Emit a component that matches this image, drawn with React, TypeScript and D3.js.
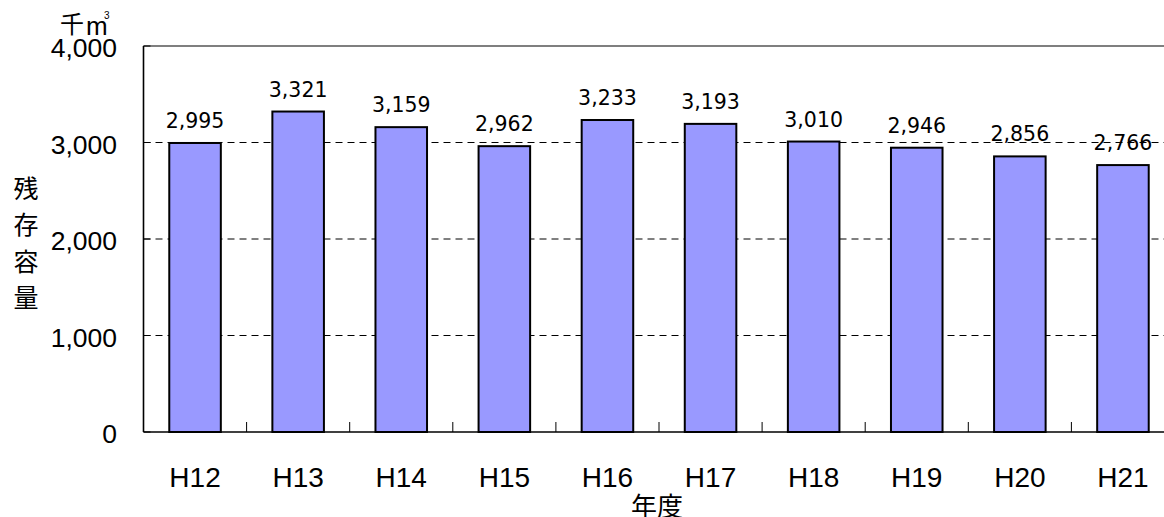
import React from "react";
import * as d3 from "d3";

const years = ["H12", "H13", "H14", "H15", "H16", "H17", "H18", "H19", "H20", "H21"];
const remaining = [2995, 3321, 3159, 2962, 3233, 3193, 3010, 2946, 2856, 2766];
const yTicks = [0, 1000, 2000, 3000, 4000];
const yTitleChars = ["残", "存", "容", "量"];

const W = 1164;
const H = 517;
const margin = { left: 143.5, top: 46, bottom: 85 };
const plotRight = 1174.5; // plot runs past the picture's right edge

const axisFont = "'Liberation Sans', Arial, sans-serif";
const cjkFont = "'Noto Sans CJK JP', sans-serif";

export default function App() {
  const x = d3
    .scaleBand<string>()
    .domain(years)
    .range([margin.left, plotRight])
    .paddingInner(0.5)
    .paddingOuter(0.25);

  const y = d3
    .scaleLinear()
    .domain([0, 4000])
    .range([H - margin.bottom, margin.top]);

  const step = x.step();
  const fmt = d3.format(",");
  const y0 = y(0);

  // category boundaries for the small upward ticks on the baseline
  const bounds = d3.range(years.length + 1).map((i) => margin.left + i * step);

  return (
    <div style={{ position: "fixed", left: 0, top: 0 }}>
      <svg width={W} height={H} style={{ display: "block", background: "#fff" }}>
        {/* gridlines */}
        {yTicks
          .filter((t) => t > 0 && t < 4000)
          .map((t) => (
            <line
              key={t}
              x1={margin.left}
              x2={plotRight}
              y1={y(t)}
              y2={y(t)}
              stroke="#000"
              strokeWidth={1}
              strokeDasharray="7,5"
            />
          ))}
        {/* top border */}
        <line x1={margin.left} x2={plotRight} y1={y(4000)} y2={y(4000)} stroke="#000" strokeWidth={1.2} />

        {/* bars */}
        {years.map((yr, i) => (
          <rect
            key={yr}
            x={x(yr)}
            y={y(remaining[i])}
            width={x.bandwidth()}
            height={y0 - y(remaining[i])}
            fill="#9999FF"
            stroke="#000"
            strokeWidth={2}
          />
        ))}

        {/* value labels */}
        {years.map((yr, i) => (
          <text
            key={yr}
            x={(x(yr) as number) + x.bandwidth() / 2}
            y={y(remaining[i]) - 15}
            textAnchor="middle"
            fontFamily="'DejaVu Sans', sans-serif"
            fontSize={20.5}
            fill="#000"
          >
            {fmt(remaining[i])}
          </text>
        ))}

        {/* axes */}
        <line x1={margin.left} x2={margin.left} y1={y(4000)} y2={y0} stroke="#000" strokeWidth={1.6} />
        <line x1={margin.left} x2={plotRight} y1={y0} y2={y0} stroke="#000" strokeWidth={1.6} />
        {bounds.map((bx, i) => (
          <line key={i} x1={bx} x2={bx} y1={y0} y2={y0 - 10} stroke="#000" strokeWidth={1} />
        ))}
        {yTicks.map((t) => (
          <line key={t} x1={margin.left} x2={margin.left + 7} y1={y(t)} y2={y(t)} stroke="#000" strokeWidth={1} />
        ))}

        {/* y tick labels */}
        {yTicks.map((t) => (
          <text
            key={t}
            x={117}
            y={y(t) + 2}
            textAnchor="end"
            dominantBaseline="central"
            fontFamily={axisFont}
            fontSize={26.5}
            fill="#000"
          >
            {fmt(t)}
          </text>
        ))}

        {/* x tick labels */}
        {years.map((yr) => (
          <text
            key={yr}
            x={(x(yr) as number) + x.bandwidth() / 2}
            y={487}
            textAnchor="middle"
            fontFamily={axisFont}
            fontSize={28}
            fill="#000"
          >
            {yr}
          </text>
        ))}

        {/* unit */}
        <text x={60} y={33} fontFamily={cjkFont} fontSize={24} fill="#000">
          千
        </text>
        <text x={86} y={35} fontFamily={axisFont} fontSize={26} fill="#000">
          m
        </text>
        <text x={104} y={19} fontFamily={axisFont} fontSize={10} fill="#000">
          3
        </text>

        {/* y title, stacked vertically */}
        {yTitleChars.map((c, i) => (
          <text
            key={c}
            x={26}
            y={187 + i * 36.3}
            textAnchor="middle"
            dominantBaseline="central"
            fontFamily={cjkFont}
            fontSize={25}
            fill="#000"
          >
            {c}
          </text>
        ))}

        {/* x title */}
        <text
          x={657}
          y={504}
          textAnchor="middle"
          dominantBaseline="central"
          fontFamily={cjkFont}
          fontSize={26}
          fill="#000"
        >
          年度
        </text>
      </svg>
    </div>
  );
}
